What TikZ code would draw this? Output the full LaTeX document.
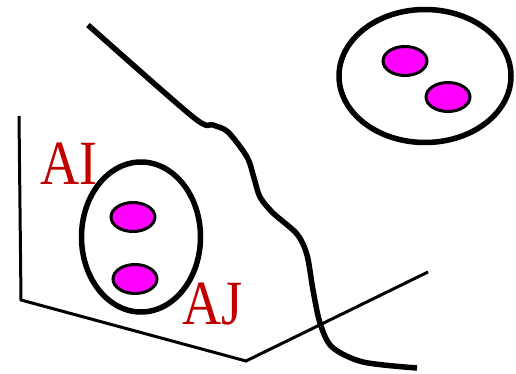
\documentclass[tikz,border=0pt]{standalone}
\usepackage{fontspec}
\setmainfont{Liberation Serif}
\usetikzlibrary{shapes.geometric}
\definecolor{labelred}{RGB}{192,0,0}
\definecolor{beadpink}{RGB}{255,0,255}
\begin{document}
\begin{tikzpicture}[x=1pt,y=-1pt,
  setring/.style={ellipse,draw,line width=5.5pt,inner sep=0pt},
  dotbead/.style={ellipse,draw,fill=beadpink,line width=3pt,minimum width=44pt,minimum height=29pt,inner sep=0pt},
  setlabel/.style={text=labelred,font=\fontsize{63}{63}\selectfont,inner sep=0pt,anchor=base west}
]
  \useasboundingbox (0,0) rectangle (516,374);

  % boundary line
  \draw[line width=3pt,line join=miter] (19,116) -- (21,300) -- (246,361) -- (428,272);

  % wavy divide
  \draw[line width=5.5pt] plot[smooth,tension=0.5] coordinates {(88,25) (193,117) (213,125) (228,132)
    (247,157) (254,178) (260,197) (273,213) (297,234) (307,255) (313,290) (320,323) (332,347) (363,362) (417,368)};

  % left set
  \node[setring,minimum width=119pt,minimum height=150pt] (leftset) at (141,237) {};
  \node[dotbead] (leftup) at (133,217) {};
  \node[dotbead] (leftdown) at (135,279) {};

  % right set
  \node[setring,minimum width=172pt,minimum height=133pt] (rightset) at (425,76) {};
  \node[dotbead] (rightup) at (405,61) {};
  \node[dotbead] (rightdown) at (448,97) {};

  % labels
  \node[setlabel] (labai) at (40,184) {\scalebox{0.86}[1]{AI}};
  \node[setlabel] (labaj) at (182,324) {\scalebox{0.86}[1]{AJ}};
\end{tikzpicture}
\end{document}
